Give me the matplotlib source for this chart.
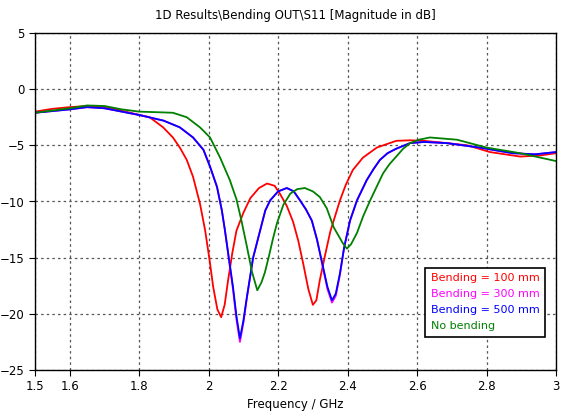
import matplotlib
matplotlib.use("Agg")
import matplotlib.pyplot as plt

title = "1D Results\\Bending OUT\\S11 [Magnitude in dB]"
xlabel = "Frequency / GHz"
labels = ["Bending = 100 mm", "Bending = 300 mm", "Bending = 500 mm", "No bending"]
colors = ["#ff0000", "#ff00ff", "#0000ff", "#008000"]

f_red = [1.5, 1.55, 1.6, 1.65, 1.7, 1.74, 1.774, 1.83, 1.869, 1.897, 1.917, 1.937, 1.955, 1.975, 1.99, 2.003, 2.013,
         2.025, 2.036, 2.046, 2.056, 2.068, 2.08, 2.1, 2.12, 2.145, 2.168, 2.19, 2.205, 2.225, 2.243, 2.258, 2.272,
         2.287, 2.30, 2.31, 2.32, 2.335, 2.35, 2.378, 2.395, 2.415, 2.444, 2.484, 2.54, 2.58, 2.62, 2.685, 2.745, 2.81,
         2.897, 2.955, 3.0]
s_red = [-2.0, -1.75, -1.6, -1.5, -1.6, -1.85, -2.1, -2.5, -3.4, -4.3, -5.2, -6.3, -7.8, -10.2, -12.6, -15.3, -17.6,
         -19.6, -20.3, -19.2, -17.0, -14.6, -12.6, -11.0, -9.7, -8.8, -8.4, -8.6, -9.3, -10.4, -11.8, -13.5, -15.5,
         -17.8, -19.2, -18.8, -17.0, -14.8, -12.7, -9.9, -8.5, -7.2, -6.1, -5.2, -4.6, -4.55, -4.6, -4.8, -5.0, -5.6,
         -6.0, -5.9, -5.7]

f_blue = [1.5, 1.55, 1.6, 1.65, 1.7, 1.75, 1.8, 1.87, 1.917, 1.955, 1.985, 2.004, 2.024, 2.038, 2.047, 2.058, 2.07,
          2.08, 2.09, 2.10, 2.11, 2.128, 2.148, 2.163, 2.177, 2.2, 2.225, 2.245, 2.263, 2.28, 2.297, 2.312, 2.327,
          2.342, 2.355, 2.366, 2.378, 2.39, 2.407, 2.427, 2.455, 2.475, 2.493, 2.515, 2.54, 2.58, 2.62, 2.685, 2.78,
          2.875, 2.94, 3.0]
s_blue = [-2.1, -1.95, -1.8, -1.6, -1.7, -2.0, -2.3, -2.8, -3.4, -4.3, -5.4, -6.9, -8.7, -10.8, -12.6, -15.0, -17.6,
          -20.2, -22.2, -20.6, -18.5, -15.0, -12.6, -10.8, -9.9, -9.1, -8.8, -9.1, -9.9, -10.7, -11.7, -13.4, -15.5,
          -17.6, -18.8, -18.2, -16.4, -14.1, -11.7, -9.9, -8.1, -7.1, -6.3, -5.7, -5.3, -4.8, -4.7, -4.8, -5.2,
          -5.7, -5.8, -5.6]

f_mag = f_blue
s_mag = [-2.1, -1.95, -1.8, -1.6, -1.7, -2.0, -2.3, -2.8, -3.4, -4.3, -5.4, -6.9, -8.7, -10.8, -12.6, -15.1, -17.8,
         -20.5, -22.5, -20.8, -18.6, -15.0, -12.6, -10.8, -9.9, -9.1, -8.8, -9.1, -9.9, -10.7, -11.7, -13.4, -15.6,
         -17.8, -19.0, -18.4, -16.5, -14.1, -11.7, -9.9, -8.1, -7.1, -6.3, -5.7, -5.3, -4.8, -4.7, -4.8, -5.2,
         -5.7, -5.8, -5.6]

f_green = [1.5, 1.55, 1.6, 1.65, 1.7, 1.75, 1.8, 1.85, 1.897, 1.937, 1.975, 2.004, 2.033, 2.061, 2.08, 2.095, 2.11,
           2.125, 2.14, 2.152, 2.162, 2.174, 2.186, 2.197, 2.215, 2.235, 2.255, 2.277, 2.3, 2.32, 2.34, 2.36, 2.386,
           2.398, 2.41, 2.427, 2.445, 2.465, 2.485, 2.502, 2.52, 2.54, 2.56, 2.58, 2.605, 2.637, 2.715, 2.8, 2.897, 3.0]
s_green = [-2.1, -1.9, -1.7, -1.45, -1.5, -1.8, -2.0, -2.05, -2.1, -2.5, -3.4, -4.3, -6.1, -8.1, -9.8, -11.8, -14.0,
           -16.3, -17.9, -17.2, -16.3, -14.8, -13.2, -11.9, -10.3, -9.3, -8.9, -8.8, -9.1, -9.6, -10.6, -12.3, -13.7,
           -14.2, -13.8, -12.8, -11.3, -9.9, -8.6, -7.5, -6.7, -6.0, -5.3, -4.8, -4.5, -4.3, -4.5, -5.2, -5.7, -6.4]

xticks = [1.5, 1.6, 1.8, 2.0, 2.2, 2.4, 2.6, 2.8, 3.0]
xticklabels = ["1.5", "1.6", "1.8", "2", "2.2", "2.4", "2.6", "2.8", "3"]
yticks = [5, 0, -5, -10, -15, -20, -25]

plt.rcParams['font.family'] = ['DejaVu Sans']
fig = plt.figure(figsize=(5.64, 4.19), dpi=100)
ax = fig.add_axes([35/564, 1-370/419, (556-35)/564, (370-33)/419])

series = [(f_red, s_red), (f_mag, s_mag), (f_blue, s_blue), (f_green, s_green)]
for (f, s), lab, c in zip(series, labels, colors):
    ax.plot(f, s, color=c, lw=1.3, label=lab)

ax.set_xlim(1.5, 3.0)
ax.set_ylim(-25, 5)
ax.set_xticks(xticks)
ax.set_xticklabels(xticklabels)
ax.set_yticks(yticks)
ax.grid(True, color="#555555", linestyle=(0, (2, 2.5)), linewidth=0.9)
ax.tick_params(direction="out", length=4, labelsize=8.5, width=0.8)
for sp in ax.spines.values():
    sp.set_color("black")
    sp.set_linewidth(1.0)
ax.set_title(title, fontsize=8.5, pad=10)
ax.set_xlabel(xlabel, fontsize=8.5, labelpad=3)

leg = ax.legend(loc="lower right", bbox_to_anchor=(0.979, 0.098), handlelength=0, handletextpad=0,
                labelcolor=colors, fontsize=8, fancybox=False, framealpha=1, borderpad=0.5,
                labelspacing=0.55, borderaxespad=0)
leg.get_frame().set_edgecolor("black")
leg.get_frame().set_linewidth(1.2)
for h in leg.legend_handles:
    h.set_visible(False)

fig.savefig("out.png", dpi=100)
